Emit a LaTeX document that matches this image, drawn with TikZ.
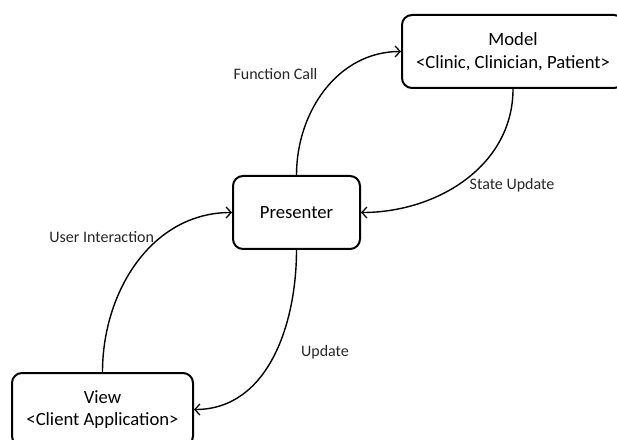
\documentclass[tikz,border=0pt]{standalone}
\usepackage{fontspec}
\setmainfont{Carlito}
\usetikzlibrary{arrows.meta}
\begin{document}
\begin{tikzpicture}[x=1pt,y=1pt,
  box/.style={draw=black, line width=2pt, rounded corners=10pt, fill=white,
    align=center, inner sep=0pt, font=\fontsize{18.67pt}{22.5pt}\selectfont},
  lbl/.style={font=\fontsize{16pt}{19pt}\selectfont, text=black!85, inner sep=0pt},
  conn/.style={draw=black, line width=1.4pt, -{Straight Barb[length=5pt,width=11pt,line width=1.3pt]}}
]
\clip (0,0) rectangle (617,439);
\useasboundingbox (0,0) rectangle (617,439);
\node[box, minimum width=222pt, minimum height=73pt] (m) at (513,387.5) {Model\\{<}Clinic, Clinician, Patient{>}};
\node[box, minimum width=127pt, minimum height=73pt] (p) at (296.5,226.5) {Presenter};
\node[box, minimum width=181pt, minimum height=73pt] (v) at (102.5,29.5) {View\\{<}Client Application{>}};
\draw[conn] (p.north) to[out=90,in=180] (m.west);
\draw[conn] (m.south) to[out=-90,in=0] (p.east);
\draw[conn] (v.north) to[out=90,in=180] (p.west);
\draw[conn] (p.south) to[out=-90,in=0] (v.east);
\node[lbl] (l1) at (275.5,365) {Function Call};
\node[lbl] (l2) at (512,254) {State Update};
\node[lbl] (l3) at (101.7,202) {User Interaction};
\node[lbl] (l4) at (325,87) {Update};
\end{tikzpicture}
\end{document}
